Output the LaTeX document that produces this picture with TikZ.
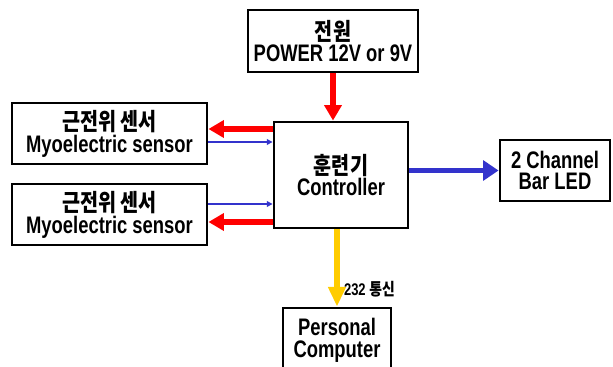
\documentclass[tikz,border=0pt]{standalone}
\usepackage{fontspec}
\setmainfont{Liberation Sans}[FakeStretch=0.77]
\newfontfamily\kr{Noto Sans CJK KR}[FakeStretch=0.82]
\usetikzlibrary{arrows.meta,calc}
\definecolor{SignalRed}{HTML}{FF0000}
\definecolor{SignalBlue}{HTML}{3333CC}
\definecolor{SignalYellow}{HTML}{FFCC00}

\begin{document}
\begin{tikzpicture}[
    x=0.025cm, y=-0.025cm,
    block/.style={
        draw=black,
        fill=white,
        line width=2pt,
        align=center,
        font=\fontsize{17}{15.5}\selectfont\bfseries,
        inner sep=0pt,
    },
    redarrow/.style={
        -{Triangle[length=11pt,width=12pt]},
        line width=4pt,
        color=SignalRed,
    },
    thinarrow/.style={
        -{Triangle[length=4pt,width=4pt]},
        line width=1.3pt,
        color=SignalBlue,
    },
    bluearrow/.style={
        -{Triangle[length=11pt,width=14pt]},
        line width=4pt,
        color=SignalBlue,
    },
    yellowarrow/.style={
        -{Triangle[length=14pt,width=12pt]},
        line width=4pt,
        color=SignalYellow,
    },
]
\useasboundingbox (0,0) rectangle (613,367);

\node[block,minimum width=4.25cm,minimum height=1.55cm] (pw) at (333,41) {%
    {\kr 전원}\\POWER 12V or 9V};

\node[block,minimum width=3.35cm,minimum height=2.65cm] (ctrl) at (341,175) {%
    {\kr 훈련기}\\Controller};

\node[block,minimum width=4.875cm,minimum height=1.525cm] (s1) at (109.5,133.5) {%
    {\kr 근전위 센서}\\Myoelectric sensor};

\node[block,minimum width=4.875cm,minimum height=1.525cm] (s2) at (109.5,214.5) {%
    {\kr 근전위 센서}\\Myoelectric sensor};

\node[block,minimum width=2.75cm,minimum height=1.525cm] (led) at (555,170.5) {%
    2 Channel\\Bar LED};

\node[block,minimum width=2.7cm,minimum height=1.6cm] (pc) at (337,340) {%
    Personal\\Computer};

\draw[redarrow] (pw.south) -- (pw.south |- ctrl.north);

\draw[redarrow] ($(ctrl.west |- s1.east)+(0,-4.5)$) -- ($(s1.east)+(0,-4.5)$);
\draw[thinarrow] ($(s1.east)+(0,8.5)$) -- ($(ctrl.west |- s1.east)+(0,8.5)$);
\draw[thinarrow] ($(s2.east)+(0,-10.5)$) -- ($(ctrl.west |- s2.east)+(0,-10.5)$);
\draw[redarrow] ($(ctrl.west |- s2.east)+(0,7.5)$) -- ($(s2.east)+(0,7.5)$);

\draw[bluearrow] (ctrl.east |- led.west) -- (led.west);

\draw[yellowarrow] (pc.north |- ctrl.south) -- node[right,pos=0.77,text=black,font=\fontsize{12}{12}\selectfont\bfseries,inner sep=3pt] {232 {\kr 통신}} (pc.north);
\end{tikzpicture}
\end{document}
